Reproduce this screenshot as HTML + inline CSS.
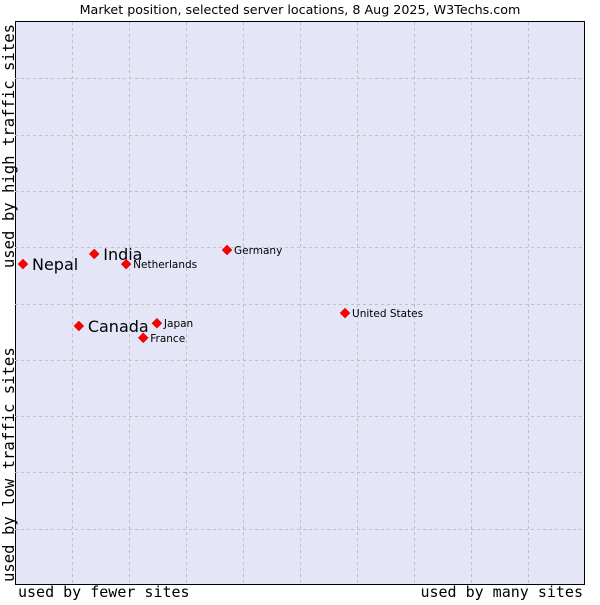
<!DOCTYPE html>
<html><head><meta charset="utf-8"><style>
body{margin:0;background:#fff;width:600px;height:600px;overflow:hidden}
</style></head><body>
<svg id="chart" width="600" height="600" xmlns="http://www.w3.org/2000/svg">
<text x="300" y="14" text-anchor="middle" font-family="DejaVu Sans, sans-serif" font-size="12.7" fill="#000">Market position, selected server locations, 8 Aug 2025, W3Techs.com</text>
<rect x="15.5" y="21.5" width="569" height="563" fill="#e4e6f8" stroke="#000" stroke-width="1"/>
<g id="grid"></g>
<g id="points"></g>
<text x="18" y="597" font-family="DejaVu Sans Mono, monospace" font-size="15">used by fewer sites</text>
<text x="583" y="597" text-anchor="end" font-family="DejaVu Sans Mono, monospace" font-size="15">used by many sites</text>
<text transform="translate(14,24) rotate(-90)" text-anchor="end" font-family="DejaVu Sans Mono, monospace" font-size="15.6">used by high traffic sites</text>
<text transform="translate(14,582) rotate(-90)" font-family="DejaVu Sans Mono, monospace" font-size="15.6">used by low traffic sites</text>
</svg>
<script>
const names = ["Nepal","India","Netherlands","Germany","United States","Canada","Japan","France"];
const xValues = [1.4,13.9,19.5,37.2,57.9,11.2,24.9,22.5];
const yValues = [57.0,58.8,57.0,59.5,48.3,46.0,46.5,43.9];
const highlighted = [true,true,false,false,false,true,false,false];
const NS="http://www.w3.org/2000/svg";
const L=15,R=585,T=22,B=585;
const xs=v=>L+v/100*(R-L);
const ys=v=>B-v/100*(B-T);
const grid=document.getElementById('grid');
for(let i=1;i<10;i++){
  const l=document.createElementNS(NS,'line');
  
  
  const x=Math.round(xs(i*10))+0.5;
  l.setAttribute('x1',x);l.setAttribute('x2',x);l.setAttribute('y1',T);l.setAttribute('y2',B);
  l.setAttribute('stroke','#c0c0c0');l.setAttribute('stroke-dasharray','3,3');
  grid.appendChild(l);
  const h=document.createElementNS(NS,'line');
  
  
  const y=Math.round(ys(i*10))+0.5;
  h.setAttribute('x1',L);h.setAttribute('x2',R);h.setAttribute('y1',y);h.setAttribute('y2',y);
  h.setAttribute('stroke','#c0c0c0');h.setAttribute('stroke-dasharray','3,3');
  grid.appendChild(h);
}
const pts=document.getElementById('points');
names.forEach((n,i)=>{
  const x=xs(xValues[i]),y=ys(yValues[i]);
  const d=document.createElementNS(NS,'path');
  
  
  d.setAttribute('d',`M${x} ${y-5}L${x+5} ${y}L${x} ${y+5}L${x-5} ${y}Z`);
  d.setAttribute('fill','#ff0000');d.setAttribute('stroke','#c00000');d.setAttribute('stroke-width','0.5');
  pts.appendChild(d);
  const t=document.createElementNS(NS,'text');
  
  
  const big=highlighted[i];
  t.setAttribute('x',x+(big?9:7));
  t.setAttribute('y',y+(big?6:4));
  t.setAttribute('font-family','DejaVu Sans, sans-serif');
  t.setAttribute('font-size',big?16:10.5);
  t.textContent=n;
  pts.appendChild(t);
});
</script>
</body></html>
